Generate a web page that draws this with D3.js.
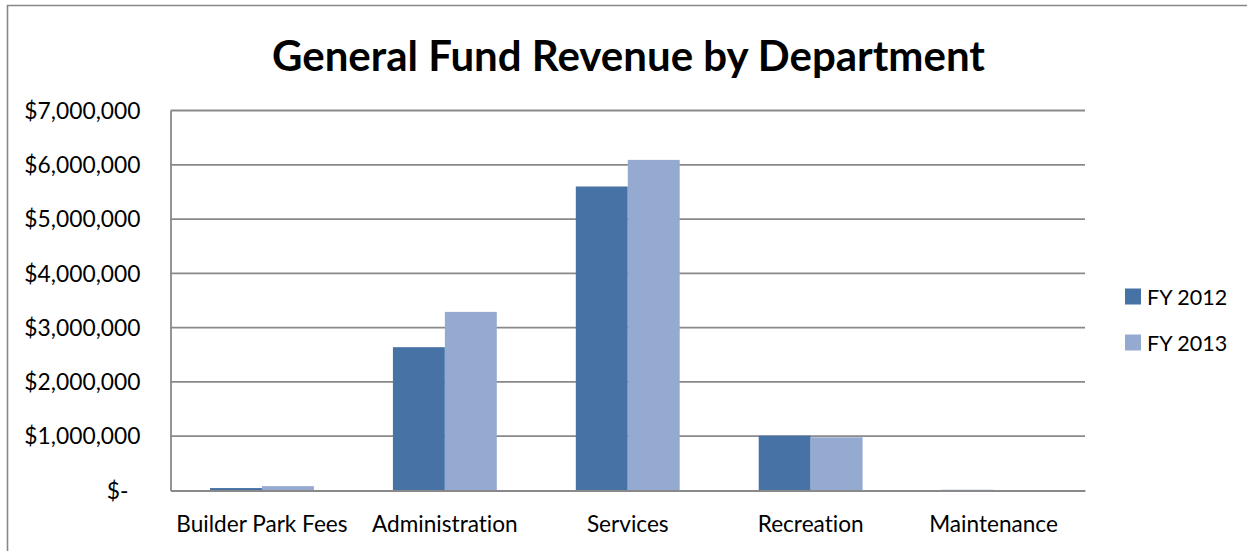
<!DOCTYPE html>
<html>
<head>
<meta charset="utf-8">
<script src="https://cdn.jsdelivr.net/npm/d3@7"></script>
<style>
  html, body { margin: 0; padding: 0; background: #fff; }
  svg { display: block; }
  text { font-family: Lato, "Open Sans", sans-serif; fill: #000; font-variant-ligatures: none; font-feature-settings: "liga" 0, "clig" 0; }
</style>
</head>
<body>
<svg id="chart" width="1247" height="551"></svg>
<script>
// Departments along the category axis
const departments = ["Builder Park Fees", "Administration", "Services", "Recreation", "Maintenance"];
// Series names (legend)
const seriesNames = ["FY 2012", "FY 2013"];
// Revenue per department, in dollars
const fy2012 = [45000, 2640000, 5600000, 1010000, 12000];
const fy2013 = [80000, 3290000, 6090000, 980000, 8000];
// Value-axis ticks
const yTicks = [0, 1000000, 2000000, 3000000, 4000000, 5000000, 6000000, 7000000];
const seriesColors = ["#4672a6", "#95aad0"];

const W = 1247, H = 551;
const plot = { left: 170.5, right: 1085, top: 110.5, bottom: 490.5 };
const gridColor = "#898989";

const svg = d3.select("#chart");

// outer chart frame (top and left edges visible)
svg.append("path")
  .attr("d", `M7.5,${H} V5.5 H${W}`)
  .attr("fill", "none")
  .attr("stroke", "#878787")
  .attr("stroke-width", 1.6);

// title
svg.append("text")
  .attr("x", 628.5)
  .attr("y", 71)
  .attr("text-anchor", "middle")
  .style("font-weight", "bold")
  .style("font-size", "42px")
  .text("General Fund Revenue by Department");

const x0 = d3.scaleBand()
  .domain(departments)
  .range([plot.left, plot.right])
  .paddingInner(0.432)
  .paddingOuter(0.216);

const x1 = d3.scaleBand()
  .domain(seriesNames)
  .range([0, x0.bandwidth()]);

const y = d3.scaleLinear()
  .domain([0, 7000000])
  .range([plot.bottom, plot.top]);

// horizontal gridlines
svg.append("g")
  .selectAll("line")
  .data(yTicks.filter(v => v > 0))
  .join("line")
  .attr("x1", plot.left)
  .attr("x2", plot.right)
  .attr("y1", d => y(d))
  .attr("y2", d => y(d))
  .attr("stroke", gridColor)
  .attr("stroke-width", 1.8);

// bars
const rows = departments.map((d, i) => ({ dept: d, values: [fy2012[i], fy2013[i]] }));
svg.append("g")
  .selectAll("g")
  .data(rows)
  .join("g")
  .attr("transform", d => `translate(${x0(d.dept)},0)`)
  .selectAll("rect")
  .data(d => d.values.map((v, j) => ({ v, s: seriesNames[j], c: seriesColors[j] })))
  .join("rect")
  .attr("x", d => x1(d.s))
  .attr("width", x1.bandwidth())
  .attr("y", d => y(d.v))
  .attr("height", d => plot.bottom - y(d.v))
  .attr("fill", d => d.c);

// value axis (left)
const yAxis = d3.axisLeft(y)
  .tickValues(yTicks)
  .tickSize(0)
  .tickPadding(0)
  .tickFormat(d => d === 0 ? "$-" : "$" + d3.format(",")(d));

const gy = svg.append("g")
  .attr("transform", `translate(${plot.left},0)`)
  .call(yAxis);
gy.select(".domain").attr("stroke", gridColor).attr("stroke-width", 1.8);
gy.selectAll(".tick text")
  .attr("x", d => d === 0 ? -42 : -30)
  .attr("dy", "0.34em")
  .style("font-size", "22.8px")
  .style("font-family", "Lato, sans-serif")
  .attr("fill", "#000");

// category axis (bottom)
const xAxis = d3.axisBottom(x0).tickSize(0).tickPadding(0);
const gx = svg.append("g")
  .attr("transform", `translate(0,${plot.bottom})`)
  .call(xAxis);
gx.select(".domain").attr("stroke", gridColor).attr("stroke-width", 1.8);
gx.selectAll(".tick text")
  .attr("y", 41.5)
  .attr("dy", 0)
  .style("font-size", "22.6px")
  .style("font-family", "Lato, sans-serif")
  .attr("fill", "#000");

// legend
const legend = svg.append("g")
  .selectAll("g")
  .data(seriesNames)
  .join("g")
  .attr("transform", (d, i) => `translate(1125,${288.5 + i * 46})`);
legend.append("rect")
  .attr("width", 16)
  .attr("height", 16)
  .attr("fill", (d, i) => seriesColors[i]);
legend.append("text")
  .attr("x", 22)
  .attr("y", 16)
  .style("font-size", "21.5px")
  .text(d => d);
</script>
</body>
</html>
